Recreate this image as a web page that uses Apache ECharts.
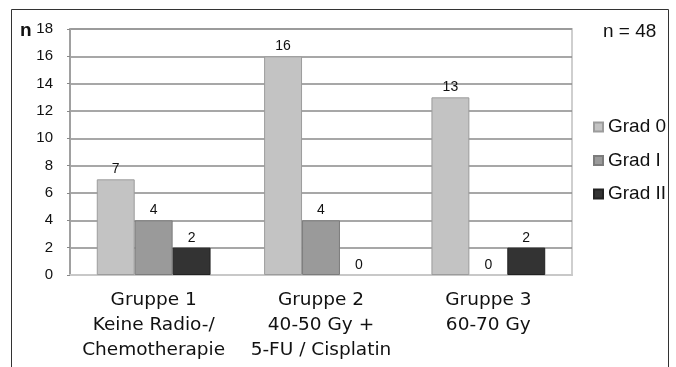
<!DOCTYPE html>
<html>
<head>
<meta charset="utf-8">
<script src="https://cdn.jsdelivr.net/npm/echarts@6/dist/echarts.min.js"></script>
<style>
  html, body { margin: 0; padding: 0; background: #fff; }
  #chart { width: 676px; height: 367px; }
</style>
</head>
<body>
<div id="chart"></div>
<script>
// Patient groups (x axis) and grade counts per group
const categories = [
  'Gruppe 1\nKeine Radio-/\nChemotherapie',
  'Gruppe 2\n40-50 Gy +\n5-FU / Cisplatin',
  'Gruppe 3\n60-70 Gy'
];
const seriesNames = ['Grad 0', 'Grad I', 'Grad II'];
const grad0 = [7, 16, 13];
const grad1 = [4, 4, 0];
const grad2 = [2, 0, 2];
const yTicks = { min: 0, max: 18, interval: 2 };
const totalLabel = 'n = 48';
const axisName = 'n';

const fill = ['#c3c3c3', '#9a9a9a', '#333333'];
const edge = ['#9c9c9c', '#7c7c7c', '#222222'];
const font = '"Liberation Sans", Arial, sans-serif';
const wideFont = '"DejaVu Sans", Verdana, sans-serif';

const values = [grad0, grad1, grad2];
const series = seriesNames.map((name, i) => ({
  name,
  type: 'bar',
  // empty bars keep their value label but get no outline
  data: values[i].map(v => (v === 0 ? { value: v, itemStyle: { borderWidth: 0 } } : v)),
  barGap: '0%',
  barCategoryGap: '32%',
  itemStyle: { color: fill[i], borderColor: edge[i], borderWidth: 1 },
  label: {
    show: true,
    position: 'top',
    distance: 3,
    color: '#111',
    fontSize: 14,
    fontFamily: font
  }
}));

const chart = echarts.init(document.getElementById('chart'), null, { renderer: 'canvas' });
chart.setOption({
  backgroundColor: '#fff',
  animation: false,
  grid: {
    left: 70, right: 104, top: 29, bottom: 92,
    show: true, borderColor: '#cfcfcf', borderWidth: 2
  },
  legend: {
    orient: 'vertical',
    left: 588,
    top: 112,
    itemWidth: 9,
    itemHeight: 9,
    itemGap: 13.5,
    icon: 'rect',
    textStyle: { fontSize: 19, lineHeight: 20, color: '#111', fontFamily: font },
    data: seriesNames
  },
  xAxis: {
    type: 'category',
    data: categories,
    axisLine: { show: true, lineStyle: { color: '#c8c8c8', width: 2 } },
    axisTick: { show: false },
    axisLabel: {
      interval: 0,
      color: '#111',
      fontSize: 18.5,
      lineHeight: 25,
      margin: 13,
      fontFamily: wideFont
    }
  },
  yAxis: {
    type: 'value',
    min: yTicks.min,
    max: yTicks.max,
    interval: yTicks.interval,
    axisLine: { show: true, lineStyle: { color: '#a0a0a0', width: 2 } },
    axisTick: { show: true, length: 3, lineStyle: { color: '#888' } },
    axisLabel: { color: '#111', fontSize: 15, margin: 17, fontFamily: font },
    splitLine: { show: true, lineStyle: { color: '#8a8a8a', width: 1.5 } }
  },
  series,
  graphic: [
    {
      type: 'polyline',
      shape: { points: [[11.5, 367], [11.5, 9.5], [668.5, 9.5], [668.5, 367]] },
      style: { stroke: '#333', lineWidth: 1, fill: null },
      silent: true
    },
    {
      type: 'text',
      x: 20, y: 31,
      style: { text: axisName, font: 'bold 19px ' + font, fill: '#111', verticalAlign: 'middle' }
    },
    {
      type: 'text',
      x: 603, y: 32,
      style: { text: totalLabel, font: '19px ' + font, fill: '#111', verticalAlign: 'middle' }
    }
  ]
});
</script>
</body>
</html>
